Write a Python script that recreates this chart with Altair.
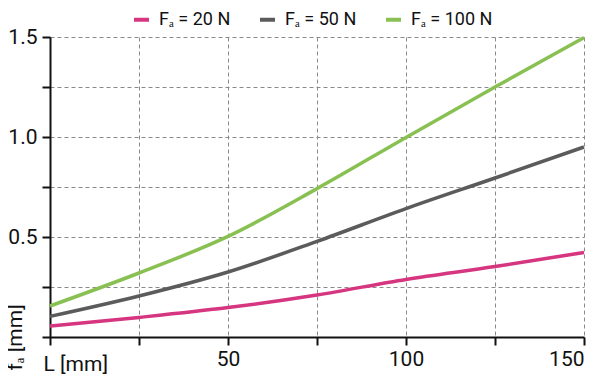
import altair as alt
import pandas as pd

L_values = [0, 25, 50, 75, 100, 125, 150]
f_20N = [0.055, 0.098, 0.147, 0.21, 0.288, 0.352, 0.423]
f_50N = [0.103, 0.205, 0.325, 0.478, 0.642, 0.795, 0.95]
f_100N = [0.155, 0.32, 0.503, 0.742, 0.998, 1.25, 1.497]
series_names = ["Fₐ = 20 N", "Fₐ = 50 N", "Fₐ = 100 N"]
series_colors = ["#d6357f", "#5b5b5b", "#88c052"]

rows = []
for name, vals in zip(series_names, [f_20N, f_50N, f_100N]):
    for l, v in zip(L_values, vals):
        rows.append({"L": l, "f": v, "series": name})
df = pd.DataFrame(rows)

FONT = "Roboto"

chart = alt.Chart(df).mark_line(strokeWidth=3.5, interpolate="monotone").encode(
    x=alt.X("L:Q", scale=alt.Scale(domain=[0, 150], nice=False),
            axis=alt.Axis(values=[0, 25, 50, 75, 100, 125, 150],
                          labelExpr="datum.value % 50 == 0 && datum.value > 0 ? datum.label : ''",
                          title="L [mm]", titleX=-7, titleY=33, titleAlign="left",
                          titleBaseline="alphabetic", titleFontWeight="normal",
                          titleFontSize=21, titleFont=FONT, titleColor="#111")),
    y=alt.Y("f:Q", scale=alt.Scale(domain=[0, 1.5], nice=False),
            axis=alt.Axis(values=[0, 0.25, 0.5, 0.75, 1.0, 1.25, 1.5],
                          labelExpr="datum.value > 0 && (datum.value * 2) % 1 == 0 ? format(datum.value, '.1f') : ''",
                          title="fₐ [mm]", titleAngle=270, titleX=-35, titleY=333,
                          titleAlign="left", titleBaseline="middle",
                          titleFontWeight="normal", titleFontSize=21, titleFont=FONT,
                          titleColor="#111")),
    color=alt.Color("series:N", sort=series_names,
                    scale=alt.Scale(domain=series_names, range=series_colors),
                    legend=alt.Legend(title=None, orient="none", legendX=82, legendY=-27,
                                      direction="horizontal", symbolType="stroke",
                                      symbolStrokeWidth=4, symbolSize=225,
                                      labelFont=FONT, labelFontSize=18, labelColor="#111",
                                      columnPadding=21, labelOffset=8, padding=0)),
).properties(
    width=534, height=300,
    autosize=alt.AutoSizeParams(type="none"),
    padding={"left": 42, "top": 29, "right": 8, "bottom": 38},
).configure_axis(
    grid=True, gridColor="#8a8a8a", gridDash=[4, 3], gridWidth=1,
    domainColor="#111", domainWidth=2, tickColor="#111", tickWidth=2, tickSize=8,
    labelFont=FONT, labelFontSize=21, labelColor="#111", labelPadding=5,
).configure_axisY(labelBaseline="middle").configure_axisX(labelPadding=3).configure_view(stroke=None)

chart.save("out.html", embed_options={"renderer": "svg", "actions": False})
